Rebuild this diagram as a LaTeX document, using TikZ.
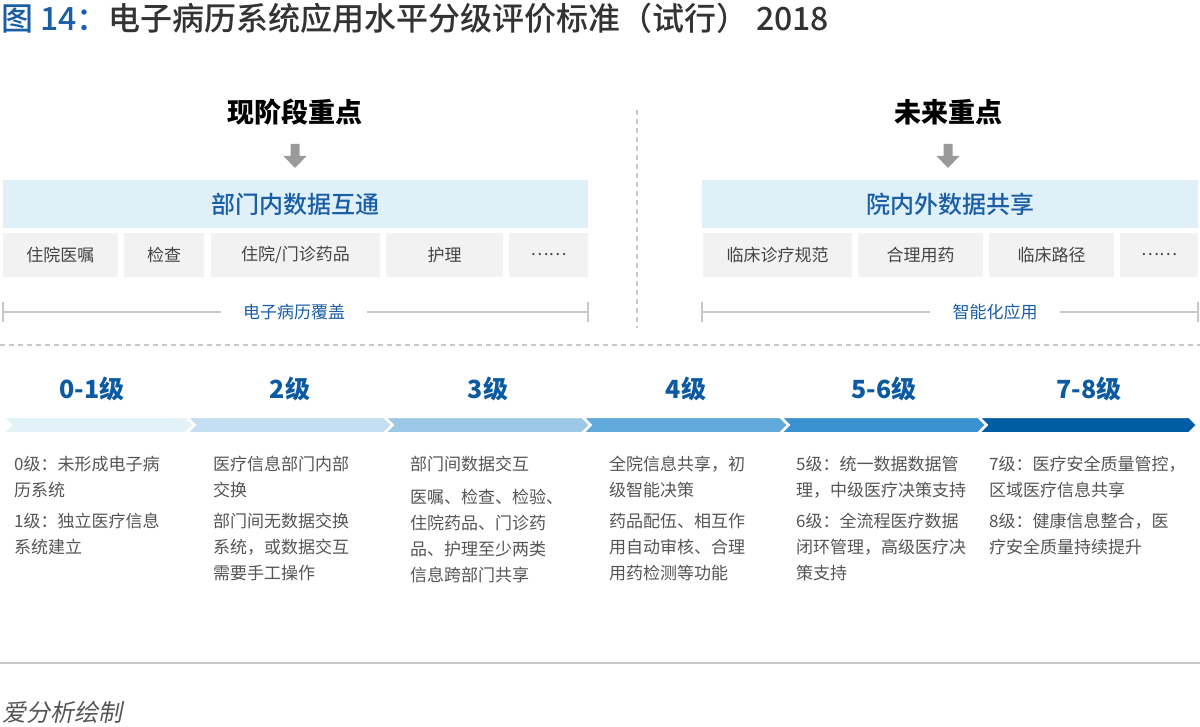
\documentclass[tikz,border=0pt]{standalone}
\usepackage{fontspec}
\setmainfont{Noto Sans CJK SC}
\newfontfamily\slantcjk{Noto Sans CJK SC}[FakeSlant=0.2]
\newfontfamily\mediumcjk{Noto Sans CJK SC Medium}

\definecolor{titleblue}{HTML}{1A5EA6}
\definecolor{titlegray}{HTML}{333333}
\definecolor{barblue}{HTML}{DFF0F8}
\definecolor{boxgray}{HTML}{F2F2F2}
\definecolor{boxtext}{HTML}{444444}
\definecolor{desctext}{HTML}{555555}
\definecolor{linegray}{HTML}{C8C8C8}
\definecolor{arrowgray}{HTML}{9A9A9A}
\definecolor{levelblue}{HTML}{0B5AA2}
\definecolor{chevA}{HTML}{E3F1F9}
\definecolor{chevB}{HTML}{C5DFF2}
\definecolor{chevC}{HTML}{9DC8E8}
\definecolor{chevD}{HTML}{62A9DB}
\definecolor{chevE}{HTML}{3A91D0}
\definecolor{chevF}{HTML}{005DA3}

\begin{document}
\begin{tikzpicture}[x=1pt, y=-1pt,
    bar/.style={fill=barblue, minimum height=48pt, inner sep=0pt, text=titleblue,
      font=\fontsize{24}{24}\mediumcjk},
    item/.style={fill=boxgray, minimum height=44pt, inner sep=0pt, text=boxtext,
      font=\fontsize{17}{17}\selectfont},
    heading/.style={inner sep=0pt, text=black, font=\fontsize{27}{27}\selectfont\bfseries},
    level/.style={inner sep=0pt, text=levelblue, font=\fontsize{25}{25}\selectfont\bfseries},
    desc/.style={anchor=north west, inner sep=0pt, align=left, text=desctext,
      font=\fontsize{17}{26}\selectfont},
    span/.style={fill=white, inner xsep=22pt, inner ysep=2pt, text=titleblue,
      font=\fontsize{17}{17}\selectfont},
    rule/.style={draw=linegray, line width=1.2pt},
    dashrule/.style={draw=linegray, line width=1.2pt, dash pattern=on 5pt off 4pt}
  ]
    \useasboundingbox[fill=white] (0,0) rectangle (1200,727);

    % title
    \node[anchor=west, inner sep=0pt, text=titlegray, font=\fontsize{32}{32}\mediumcjk]
      (title) at (1,18) {\textcolor{titleblue}{图 14：}电子病历系统应用水平分级评价标准（试行） 2018};

    % current and future focus
    \node[heading] (nowhead) at (295,112) {现阶段重点};
    \node[heading] (futhead) at (948,112) {未来重点};
    \foreach \x in {295,948}
      \fill[arrowgray] (\x-4.5,144) -- (\x+4.5,144) -- (\x+4.5,156) -- (\x+11.5,156)
        -- (\x,168) -- (\x-11.5,156) -- (\x-4.5,156) -- cycle;

    \node[bar, minimum width=585pt] (nowbar) at (295.5,204) {部门内数据互通};
    \node[bar, minimum width=496pt] (futbar) at (950,204) {院内外数据共享};

    \foreach \a/\b/\t [count=\i] in {3/118/住院医嘱, 124/204/检查, 211/380/{住院/门诊药品},
        386/503/护理, 509/588/……, 703/852/临床诊疗规范, 858/983/合理用药,
        989/1114/临床路径, 1120/1198/……}
      \node[item, minimum width={(\b-\a)*1pt}] (box\i) at ({(\a+\b)/2},255) {\t};

    % coverage brackets
    \coordinate (covl) at (3,312);
    \coordinate (covr) at (588,312);
    \coordinate (appl) at (702,312);
    \coordinate (appr) at (1198,312);
    \node[span] (cov) at (294,312) {电子病历覆盖};
    \node[span] (app) at (995,312) {智能化应用};
    \draw[rule] (covl) -- (cov.west) (cov.east) -- (covr);
    \draw[rule] (appl) -- (app.west) (app.east) -- (appr);
    \foreach \c in {covl,covr,appl,appr}
      \draw[rule] ([yshift=10pt]\c) -- ([yshift=-10pt]\c);

    \draw[dashrule] (637,110) -- (637,328);
    \draw[dashrule] (0,345) -- (1200,345);

    % levels
    \foreach \s/\t/\c/\m/\l [count=\i] in {3/194/chevA/92/0-1级, 187/392/chevB/290/2级,
        385/590/chevC/488/3级, 583/788/chevD/686/4级, 781/986/chevE/884/5-6级,
        979/1197/chevF/1089/7-8级}
    {
      \fill[\c, draw=white, line width=2pt, line join=miter] (\s,417) -- (\t-8,417) -- (\t,425)
        -- (\t-8,433) -- (\s,433) -- (\s+8,425) -- cycle;
      \node[level] (lv\i) at (\m,389) {\l};
    }

    % level descriptions
    \node[desc] (d1a) at (14,456) {0级：未形成电子病\\历系统};
    \node[desc] (d1b) at (14,513) {1级：独立医疗信息\\系统建立};
    \node[desc] (d2a) at (213,456) {医疗信息部门内部\\交换};
    \node[desc] (d2b) at (213,513) {部门间无数据交换\\系统，或数据交互\\需要手工操作};
    \node[desc] (d3a) at (410,456) {部门间数据交互};
    \node[desc] (d3b) at (410,489) {医嘱、检查、检验、\\住院药品、门诊药\\品、护理至少两类\\信息跨部门共享};
    \node[desc] (d4a) at (609,456) {全院信息共享，初\\级智能决策};
    \node[desc] (d4b) at (609,513) {药品配伍、相互作\\用自动审核、合理\\用药检测等功能};
    \node[desc] (d5a) at (796,456) {5级：统一数据数据管\\理，中级医疗决策支持};
    \node[desc] (d5b) at (796,513) {6级：全流程医疗数据\\闭环管理，高级医疗决\\策支持};
    \node[desc] (d6a) at (989,456) {7级：医疗安全质量管控，\\区域医疗信息共享};
    \node[desc] (d6b) at (989,513) {8级：健康信息整合，医\\疗安全质量持续提升};

    % footer
    \coordinate (fl) at (0,663);
    \coordinate (fr) at (1200,663);
    \draw[draw=linegray, line width=1.5pt] (fl) -- (fr);
    \node[anchor=west, inner sep=0pt, text=desctext, font=\fontsize{24}{24}\slantcjk]
      (source) at (2,712) {爱分析绘制};
\end{tikzpicture}
\end{document}
